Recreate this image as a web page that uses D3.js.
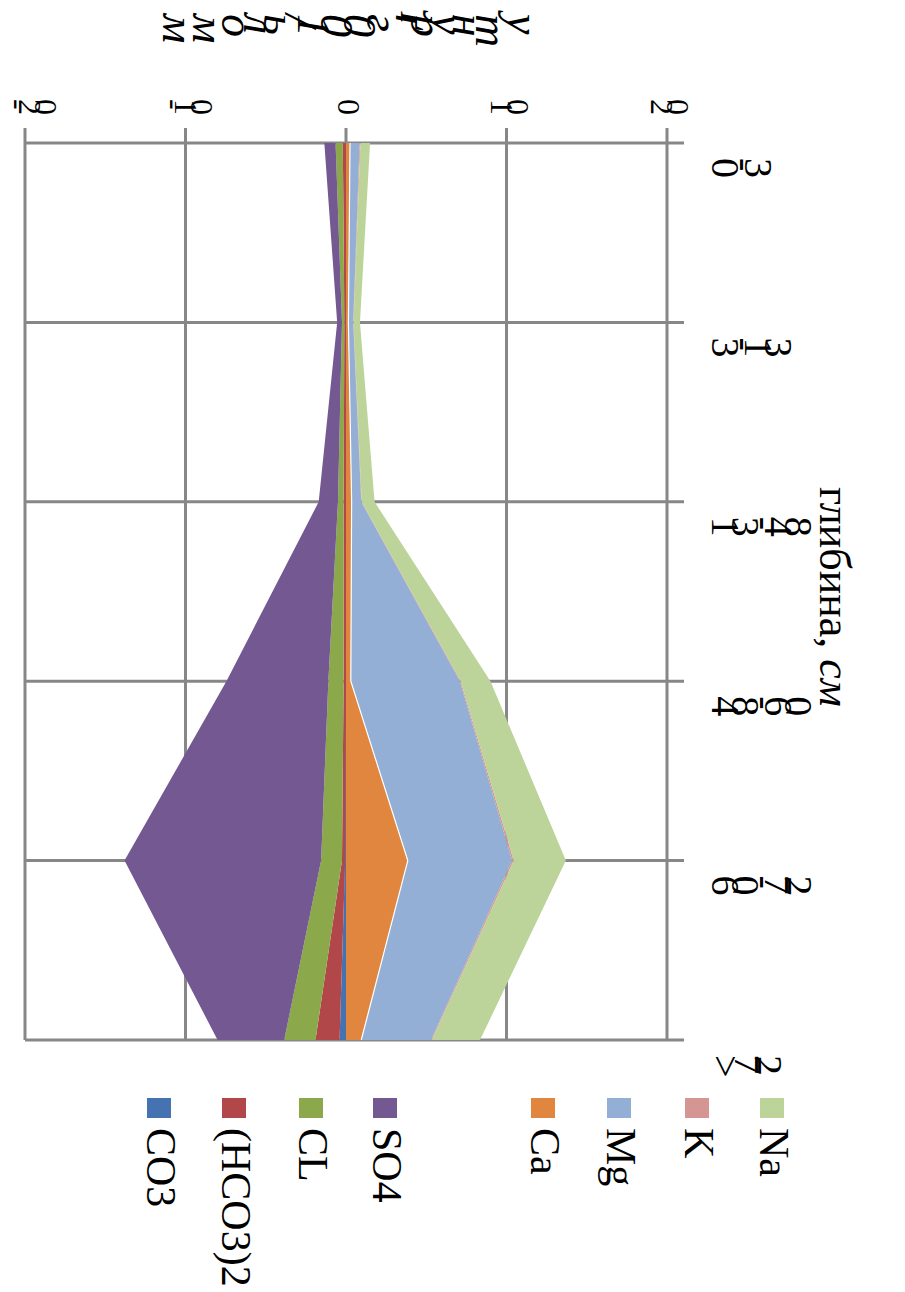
<!DOCTYPE html>
<html>
<head>
<meta charset="utf-8">
<script src="https://cdn.jsdelivr.net/npm/d3@7"></script>
<style>
  html, body { margin: 0; padding: 0; background: #fff; }
  svg { display: block; font-family: "Liberation Serif", "DejaVu Serif", serif; }
</style>
</head>
<body>
<svg id="chart" width="905" height="1292"></svg>
<script>
// Depth intervals, cm
const depths = ["0-3", "3-13", "13-48", "48-60", "60-72", ">72"];

// Cations (plotted to the positive side)
const Na = [0.6, 0.4, 0.8, 1.85, 3.25, 3.0];
const K  = [0.05, 0.02, 0.03, 0.05, 0.1, 0.05];
const Mg = [0.6, 0.3, 0.6, 6.8, 6.5, 4.35];
const Ca = [0.25, 0.15, 0.35, 0.3, 3.85, 0.95];

// Anions (plotted to the negative side)
const SO4  = [-0.7, -0.3, -1.2, -6.35, -12.25, -4.15];
const CL   = [-0.45, -0.15, -0.35, -0.95, -1.3, -1.95];
const HCO3 = [-0.2, -0.1, -0.15, -0.15, -0.2, -1.5];
const CO3  = [0.0, 0.0, 0.0, 0.0, -0.05, -0.4];

const valueTicks = [-20, -10, 0, 10, 20];
const valueTickLabels = ["-20", "-10", "0", "10", "20"];

// stacking order, from the zero line outwards
const seriesKeys = ["CO3", "(HCO3)2", "CL", "SO4", "Ca", "Mg", "K", "Na"];
const seriesValues = { "CO3": CO3, "(HCO3)2": HCO3, "CL": CL, "SO4": SO4, "Ca": Ca, "Mg": Mg, "K": K, "Na": Na };
const colors = {
  "CO3": "#4572b0", "(HCO3)2": "#b14749", "CL": "#8ba84b", "SO4": "#735891",
  "Ca": "#e0863f", "Mg": "#94afd6", "K": "#d49593", "Na": "#bcd49a"
};
// legend order and column centres
const legendKeys = ["Na", "K", "Mg", "Ca", "SO4", "CL", "(HCO3)2", "CO3"];
const legendCenters = [772, 697, 619, 543, 385, 311, 234, 159];

const rows = depths.map((d, i) => {
  const r = { depth: d };
  seriesKeys.forEach(k => r[k] = seriesValues[k][i]);
  return r;
});

const svg = d3.select("#chart");
svg.append("rect").attr("width", 905).attr("height", 1292).attr("fill", "#fff");

const plot = { left: 25, right: 667, top: 143, bottom: 1040 };
const x = d3.scaleLinear().domain([-20, 20]).range([plot.left, plot.right]);
const y = d3.scalePoint().domain(depths).range([plot.top, plot.bottom]);

const gridColor = "#878787";

// grid (behind the areas)
const grid = svg.append("g").attr("stroke", gridColor).attr("stroke-width", 3);
grid.selectAll("line.v").data(valueTicks).join("line")
  .attr("x1", d => x(d)).attr("x2", d => x(d))
  .attr("y1", plot.top - 15).attr("y2", plot.bottom);
grid.selectAll("line.h").data(depths).join("line")
  .attr("x1", plot.left).attr("x2", plot.right + 17)
  .attr("y1", d => y(d)).attr("y2", d => y(d));

// areas
const stacked = d3.stack().keys(seriesKeys).offset(d3.stackOffsetDiverging)(rows);
const area = d3.area()
  .y(d => y(d.data.depth))
  .x0(d => x(d[0]))
  .x1(d => x(d[1]));

svg.append("g").selectAll("path")
  .data(stacked)
  .join("path")
  .attr("d", area)
  .attr("fill", d => colors[d.key]);

// thin light edge along the outer side of the Ca band
svg.append("path")
  .datum(stacked.find(s => s.key === "Ca"))
  .attr("d", d3.line().y(d => y(d.data.depth)).x(d => x(d[1])))
  .attr("fill", "none")
  .attr("stroke", "#fff")
  .attr("stroke-width", 1.2);

// value tick labels (top); the end label is kept inside the page
svg.append("g").selectAll("text")
  .data(valueTicks)
  .join("text")
  .attr("x", (d, i) => i === 0 ? 8 : x(d))
  .attr("y", 99)
  .attr("text-anchor", (d, i) => i === 0 ? "start" : "middle")
  .attr("rotate", 90)
  .attr("font-size", 32)
  .text((d, i) => valueTickLabels[i]);

// value axis title
svg.append("text")
  .attr("x", (plot.left + plot.right) / 2)
  .attr("y", 14)
  .attr("text-anchor", "middle")
  .attr("rotate", 90)
  .attr("font-size", 46)
  .attr("font-style", "italic")
  .text("ммоль/100г ґрунту");

// depth labels (right)
svg.append("g").selectAll("text")
  .data(depths)
  .join("text")
  .attr("x", 712)
  .attr("y", d => y(d) + 15)
  .attr("rotate", 90)
  .attr("font-size", 40)
  .text(d => d);

// depth axis title
const t = svg.append("text")
  .attr("transform", "translate(820,487) rotate(90)")
  .attr("font-size", 44);
t.append("tspan").text("глибина, ");
t.append("tspan").attr("font-style", "italic").text("см");

// legend
const lg = svg.append("g").selectAll("g")
  .data(legendKeys)
  .join("g")
  .attr("transform", (d, i) => `translate(${legendCenters[i]},0)`);
lg.append("rect")
  .attr("x", -12).attr("y", 1098).attr("width", 24).attr("height", 20)
  .attr("fill", d => colors[d]);
lg.append("text")
  .attr("transform", "translate(-12,1128) rotate(90)")
  .attr("font-size", 42)
  .text(d => d);
</script>
</body>
</html>
